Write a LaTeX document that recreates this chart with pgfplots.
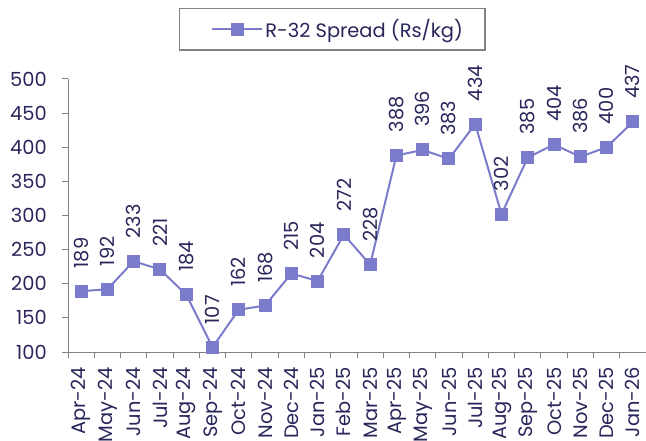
\documentclass[border=0pt]{standalone}
\usepackage{pgfplots}
\pgfplotsset{compat=1.18}
\usepackage{fontspec}
\setmainfont{Poppins}
\definecolor{linec}{RGB}{123,123,204}
\definecolor{txt}{RGB}{40,38,90}
\definecolor{axc}{RGB}{130,130,130}
\begin{document}
\begin{tikzpicture}
\begin{axis}[
  at={(0,0)}, anchor=south west,
  scale only axis, width=578bp, height=273bp,
  xmin=-0.5, xmax=21.5, ymin=100, ymax=500,
  axis lines=left, axis line style={-, draw=axc, line width=1pt},
  xtick={0,...,21},
  xticklabels={Apr-24,May-24,Jun-24,Jul-24,Aug-24,Sep-24,Oct-24,Nov-24,Dec-24,Jan-25,Feb-25,Mar-25,Apr-25,May-25,Jun-25,Jul-25,Aug-25,Sep-25,Oct-25,Nov-25,Dec-25,Jan-26},
  x tick label style={rotate=90, anchor=east, font=\fontsize{19.5}{20}\selectfont, text=txt, inner sep=0pt, xshift=-9bp},
  major x tick style={draw=none},
  minor xtick={-0.5,0.5,...,21.5},
  minor x tick style={draw=axc, line width=1pt},
  ytick={100,150,...,500},
  y tick label style={font=\fontsize{19.5}{20}\selectfont, text=txt, inner sep=0pt, xshift=-15bp},
  y tick style={draw=axc, line width=1pt},
  tick align=outside,
  major tick length=6bp, minor tick length=6bp,
  /pgf/number format/assume math mode=true,
  yticklabel style={/pgf/number format/1000 sep={}},
  legend style={at={(0.457,1.183)}, anchor=center, draw=axc, line width=1.2pt, font=\fontsize{19.5}{20}\selectfont, text=txt, inner xsep=20bp, inner ysep=9bp},
  legend image code/.code={
    \path (-12bp,0bp);
    \draw[#1, mark=none] (0bp,0bp) -- (50bp,0bp);
    \draw[#1, only marks] plot coordinates {(25bp,0bp)};
  },
  clip=false,
]
\addplot[color=linec, line width=2pt, mark=square*, mark size=5.5bp, mark options={solid, fill=linec, draw=linec},
  nodes near coords,
  every node near coord/.append style={yshift=22bp, rotate=90, anchor=west, font=\fontsize{19.5}{20}\selectfont, text=txt, inner sep=0pt},
] coordinates {
(0,189) (1,192) (2,233) (3,221) (4,184) (5,107) (6,162) (7,168) (8,215) (9,204) (10,272) (11,228)
(12,388) (13,396) (14,383) (15,434) (16,302) (17,385) (18,404) (19,386) (20,400) (21,437)
};
\addlegendentry{R-32 Spread (Rs/kg)}
\end{axis}
\pgfresetboundingbox
\path[use as bounding box] (-68bp,-89bp) rectangle (578bp,352bp);
\end{tikzpicture}
\end{document}
